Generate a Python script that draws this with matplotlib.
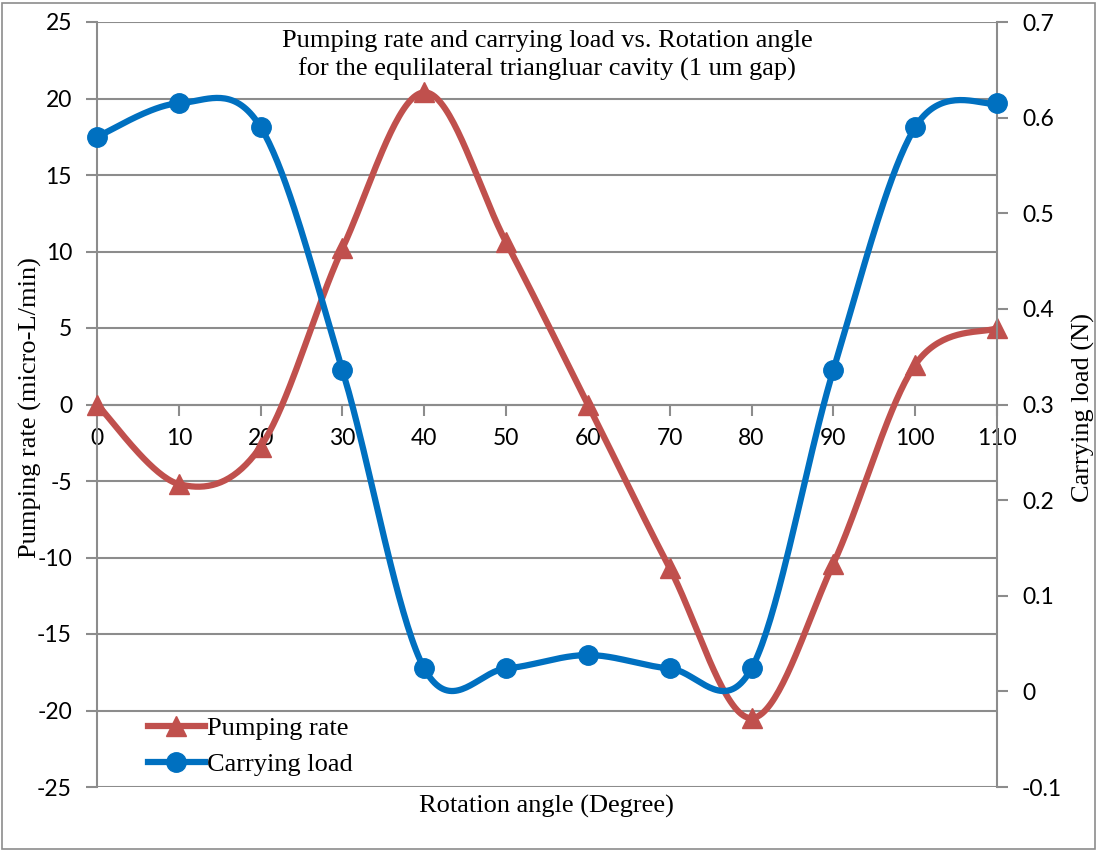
#!/usr/bin/env python3
# pumping rate / carrying load vs rotation angle, excel style smoothed lines
import matplotlib.pyplot as plt
import matplotlib.patches as patches
import numpy as np

angle = [0, 10, 20, 30, 40, 50, 60, 70, 80, 90, 100, 110]
pumping_rate = [0.0, -5.2, -2.75, 10.2, 20.4, 10.6, 0.0, -10.7, -20.5, -10.4, 2.6, 5.0]
carrying_load = [0.58, 0.615, 0.59, 0.336, 0.024, 0.024, 0.038, 0.024, 0.024, 0.336, 0.59, 0.615]

left_ticks = [-25, -20, -15, -10, -5, 0, 5, 10, 15, 20, 25]
right_ticks = [-0.1, 0, 0.1, 0.2, 0.3, 0.4, 0.5, 0.6, 0.7]
right_labels = ['-0.1', '0', '0.1', '0.2', '0.3', '0.4', '0.5', '0.6', '0.7']
x_ticks = [0, 10, 20, 30, 40, 50, 60, 70, 80, 90, 100, 110]

RED = '#C0504D'
BLUE = '#0070C0'
GRID = '#8C8C8C'
SANS = 'Lato'
SERIF = 'Liberation Serif'


def smooth(xs, ys, n=40):
    # catmull-rom like excel "smoothed line"
    x = np.asarray(xs, float)
    y = np.asarray(ys, float)
    px = np.concatenate([[x[0]], x, [x[-1]]])
    py = np.concatenate([[y[0]], y, [y[-1]]])
    outx, outy = [], []
    t = np.linspace(0, 1, n)
    for i in range(1, len(px) - 2):
        p0x, p1x, p2x, p3x = px[i - 1:i + 3]
        p0y, p1y, p2y, p3y = py[i - 1:i + 3]
        # bezier control points
        c1x = p1x + (p2x - p0x) / 6
        c1y = p1y + (p2y - p0y) / 6
        c2x = p2x - (p3x - p1x) / 6
        c2y = p2y - (p3y - p1y) / 6
        bx = (1 - t) ** 3 * p1x + 3 * (1 - t) ** 2 * t * c1x + 3 * (1 - t) * t ** 2 * c2x + t ** 3 * p2x
        by = (1 - t) ** 3 * p1y + 3 * (1 - t) ** 2 * t * c1y + 3 * (1 - t) * t ** 2 * c2y + t ** 3 * p2y
        outx.extend(bx)
        outy.extend(by)
    return np.array(outx), np.array(outy)


fig = plt.figure(figsize=(10.97, 8.51), dpi=100)
fig.patches.append(patches.Rectangle((0.002, 0.002), 0.996, 0.995, transform=fig.transFigure,
                                     fill=False, edgecolor='#8C8C8C', linewidth=1.2))

ax = fig.add_axes([97 / 1097, 1 - 787 / 851, 900 / 1097, 765 / 851])
ax2 = ax.twinx()

# spine position first, it resets the ticks
for s in ['top', 'right']:
    ax.spines[s].set_visible(False)
for s in ['top', 'left', 'bottom']:
    ax2.spines[s].set_visible(False)
ax.spines['bottom'].set_position(('data', 0))
ax.spines['bottom'].set_color(GRID)
ax.spines['bottom'].set_linewidth(1.5)
ax.spines['left'].set_color(GRID)
ax.spines['left'].set_linewidth(1.5)
ax2.spines['right'].set_color(GRID)
ax2.spines['right'].set_linewidth(1.5)

ax.set_xlim(0, 110)
ax.set_ylim(-25, 25)
ax2.set_ylim(-0.1, 0.7)

ax.set_yticks(left_ticks)
ax.set_yticklabels([str(v) for v in left_ticks])
ax2.set_yticks(right_ticks)
ax2.set_yticklabels(right_labels)
ax.set_xticks(x_ticks)
ax.set_xticklabels([str(v) for v in x_ticks])

ax.tick_params(axis='y', direction='out', length=8, width=1.5, color=GRID, pad=10,
               labelsize=16.5, labelfontfamily=SANS)
ax.tick_params(axis='x', direction='out', length=8, width=1.5, color=GRID, pad=9,
               labelsize=16.5, labelfontfamily=SANS)
ax2.tick_params(axis='y', direction='out', length=8, width=1.5, color=GRID, pad=10,
                labelsize=16.5, labelfontfamily=SANS)

for v in left_ticks:
    ax.axhline(v, color=GRID, linewidth=1.5, zorder=0)

sx, sy = smooth(angle, pumping_rate)
ax.plot(sx, sy, color=RED, linewidth=4.5, solid_capstyle='round', zorder=3, clip_on=False)
ax.plot(angle, pumping_rate, linestyle='none', marker='^', markersize=15, color=RED,
        zorder=4, clip_on=False)

cx, cy = smooth(angle, carrying_load)
ax2.plot(cx, cy, color=BLUE, linewidth=4.5, solid_capstyle='round', zorder=3, clip_on=False)
ax2.plot(angle, carrying_load, linestyle='none', marker='o', markersize=14, color=BLUE,
         zorder=4, clip_on=False)

# legend proxies
h1, = ax.plot([], [], color=RED, linewidth=4.5, marker='^', markersize=15)
h2, = ax.plot([], [], color=BLUE, linewidth=4.5, marker='o', markersize=14)
ax2.legend([h1, h2], ['Pumping rate', 'Carrying load'], loc='lower left',
           bbox_to_anchor=(0.045, 0.0), borderaxespad=0, frameon=False, handlelength=2.15,
           handletextpad=0.1, labelspacing=0.5,
           prop={'family': SERIF, 'size': 19})

ax.text(0.5, 0.99, 'Pumping rate and carrying load vs. Rotation angle\nfor the equlilateral triangluar cavity (1 um gap)',
        transform=ax.transAxes, ha='center', va='top', fontfamily=SERIF, fontsize=19,
        linespacing=1.35)

fig.text(546 / 1097, 1 - 806 / 851, 'Rotation angle (Degree)', ha='center', va='center',
         fontfamily=SERIF, fontsize=19)
fig.text(30 / 1097, 1 - 408 / 851, 'Pumping rate (micro-L/min)', ha='center', va='center',
         rotation=90, fontfamily=SERIF, fontsize=19)
fig.text(1083 / 1097, 1 - 408 / 851, 'Carrying load (N)', ha='center', va='center',
         rotation=90, fontfamily=SERIF, fontsize=19)

fig.savefig('out.png', dpi=100)
